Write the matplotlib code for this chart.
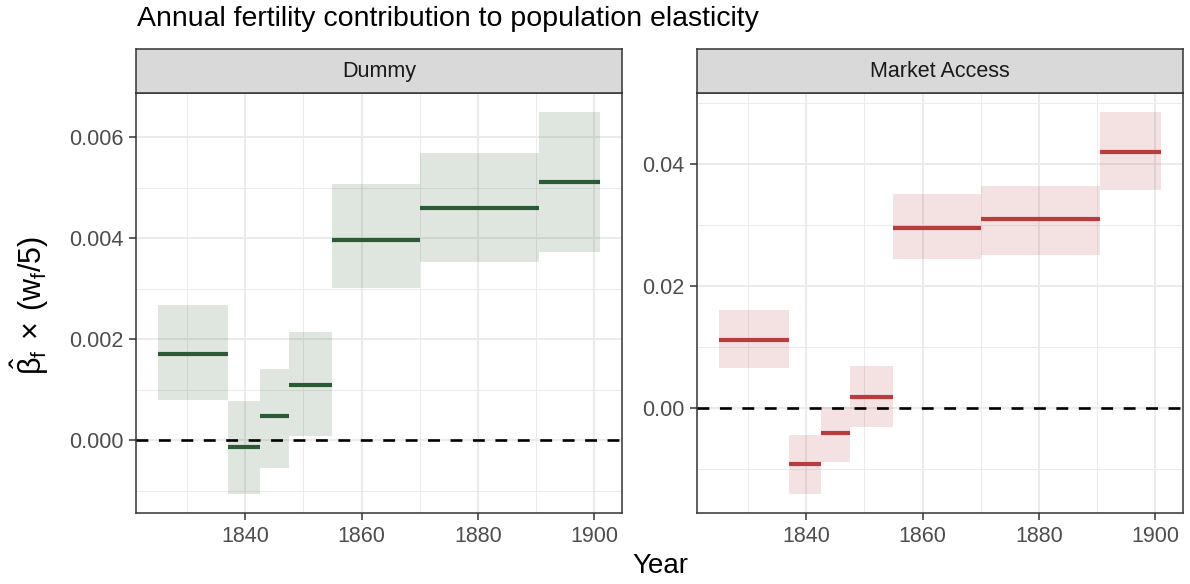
import matplotlib.pyplot as plt
import matplotlib.ticker as mticker

plt.rcParams['font.family'] = ['Liberation Sans', 'DejaVu Sans']
plt.rcParams['mathtext.default'] = 'regular'

# census periods (start / end year of each estimate)
period_start = [1825, 1837, 1842.5, 1847.5, 1855, 1870, 1890.5]
period_end = [1837, 1842.5, 1847.5, 1855, 1870, 1890.5, 1901]

dummy_est = [0.00171, -0.00014, 0.00049, 0.00110, 0.00397, 0.00461, 0.00512]
dummy_lo = [0.00080, -0.00106, -0.00054, 0.00009, 0.00302, 0.00354, 0.00372]
dummy_hi = [0.00268, 0.00078, 0.00142, 0.00215, 0.00507, 0.00569, 0.00650]

ma_est = [0.01115, -0.00913, -0.00415, 0.00185, 0.02951, 0.03093, 0.04191]
ma_lo = [0.00650, -0.01410, -0.00890, -0.00310, 0.02448, 0.02508, 0.03574]
ma_hi = [0.01607, -0.00443, 0.00020, 0.00689, 0.03510, 0.03639, 0.04852]

W, H = 1190, 584
fig = plt.figure(figsize=(W / 100, H / 100), dpi=100)


def px_axes(x0, y0, x1, y1):
    return fig.add_axes([x0 / W, 1 - y1 / H, (x1 - x0) / W, (y1 - y0) / H])


def draw_panel(x0, x1, title, est, lo, hi, color, major, minor, fmt):
    ax = px_axes(x0, 93, x1, 513)
    for s, e, m, l, h in zip(period_start, period_end, est, lo, hi):
        ax.fill_between([s, e], [l, l], [h, h], color=color, alpha=0.15, linewidth=0, zorder=2)
        ax.plot([s, e], [m, m], color=color, lw=3, solid_capstyle='butt', zorder=3)
    ax.axhline(0, color='black', lw=1.9, ls=(0, (4.5, 4)), zorder=4)

    xspan = period_end[-1] - period_start[0]
    ax.set_xlim(period_start[0] - 0.05 * xspan, period_end[-1] + 0.05 * xspan)
    ymin, ymax = min(lo), max(hi)
    yspan = ymax - ymin
    ax.set_ylim(ymin - 0.05 * yspan, ymax + 0.05 * yspan)

    ax.xaxis.set_major_locator(mticker.FixedLocator([1840, 1860, 1880, 1900]))
    ax.xaxis.set_minor_locator(mticker.FixedLocator([1830, 1850, 1870, 1890]))
    ax.yaxis.set_major_locator(mticker.MultipleLocator(major))
    ax.yaxis.set_minor_locator(mticker.MultipleLocator(minor))
    ax.yaxis.set_major_formatter(mticker.FormatStrFormatter(fmt))

    ax.grid(which='major', color='#EBEBEB', lw=1.4, zorder=0)
    ax.grid(which='minor', color='#EBEBEB', lw=0.7, zorder=0)
    ax.set_axisbelow(True)
    ax.tick_params(which='major', direction='out', length=5, width=1.1, color='#333333',
                   labelcolor='#4D4D4D', labelsize=15.5, pad=4)
    ax.tick_params(which='minor', length=0)
    for sp in ax.spines.values():
        sp.set_color('#333333')
        sp.set_linewidth(1.1)

    strip = px_axes(x0, 49, x1, 93)
    strip.set_facecolor('#D9D9D9')
    strip.set_xticks([])
    strip.set_yticks([])
    for sp in strip.spines.values():
        sp.set_color('#333333')
        sp.set_linewidth(1.1)
    strip.text(0.5, 0.48, title, ha='center', va='center', fontsize=15.5, color='#1A1A1A',
               transform=strip.transAxes)
    return ax


ax1 = draw_panel(136, 622, 'Dummy', dummy_est, dummy_lo, dummy_hi, '#2B5B35',
                 0.002, 0.001, '%.3f')
ax2 = draw_panel(697, 1183, 'Market Access', ma_est, ma_lo, ma_hi, '#B83C3C',
                 0.02, 0.01, '%.2f')

fig.text(137 / W, 1 - 19 / H, 'Annual fertility contribution to population elasticity',
         ha='left', va='center', fontsize=20.5, color='black')
fig.text(660 / W, 1 - 566 / H, 'Year', ha='center', va='center', fontsize=20)
fig.text(30 / W, 1 - 305 / H, r'$\hat{\beta}_f\,\times\,(w_f/5)$', rotation=90,
         ha='center', va='center', fontsize=22)

fig.savefig('out.png', dpi=100)
